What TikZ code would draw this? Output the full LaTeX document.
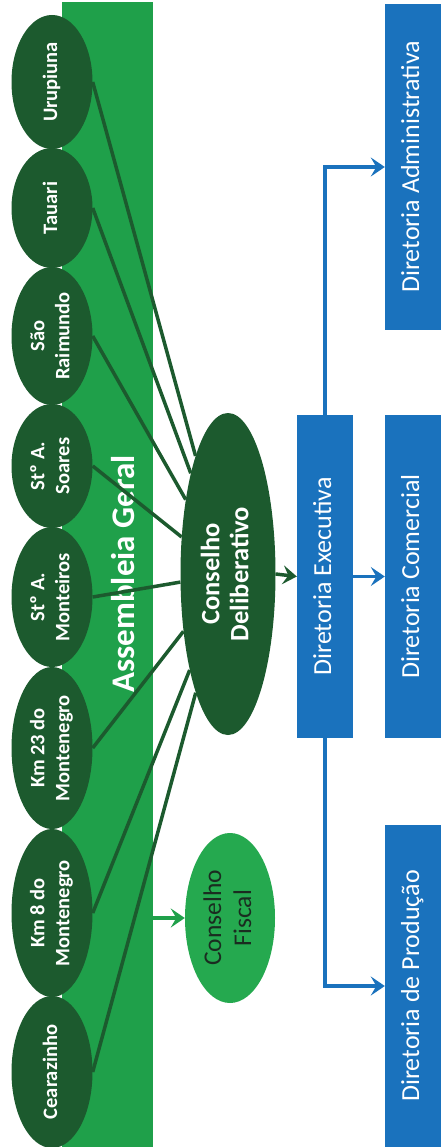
\documentclass[tikz,border=0pt]{standalone}
\usepackage{fontspec}
\setmainfont{Carlito}
\usepackage{graphicx}
\usetikzlibrary{arrows.meta,shapes.geometric}
\definecolor{dkgreen}{HTML}{1C5A2E}
\definecolor{agreen}{HTML}{1FA04A}
\definecolor{fgreen}{HTML}{25A94F}
\definecolor{dblue}{HTML}{1A72BD}
\definecolor{ftext}{HTML}{1A2C20}
\newcommand{\vlab}[3]{\rotatebox{90}{\fontsize{#1}{#2}\selectfont\begin{tabular}{@{}c@{}}#3\end{tabular}}}
\tikzset{
  band/.style={rectangle, fill=agreen, inner sep=0pt},
  place/.style={ellipse, fill=dkgreen, inner sep=0pt, minimum width=81pt, text=white, font=\bfseries},
  council/.style={ellipse, inner sep=0pt},
  dirbox/.style={rectangle, fill=dblue, inner sep=0pt, minimum width=56pt, text=white},
  conn/.style={draw=dkgreen, line width=3.5pt},
  darrow/.style={draw=dkgreen, line width=3.5pt, -{Stealth[length=14pt,width=19pt,inset=5.5pt]}},
  garrow/.style={draw=agreen, line width=3.5pt, -{Stealth[length=14pt,width=19pt,inset=5.5pt]}},
  barrow/.style={draw=dblue, line width=3.5pt, -{Stealth[length=14pt,width=19pt,inset=5.5pt]}}
}
\begin{document}
\begin{tikzpicture}[x=1pt,y=-1pt]
\useasboundingbox (0,0) rectangle (441,1147);
% Assembleia Geral band
\node[band, minimum width=91pt, minimum height=1145pt] (ag) at (107.5,574.5) {};
\node[text=white, font=\bfseries, inner sep=0pt] (agt) at (127,574) {\vlab{33}{38}{Assembleia Geral}};
% communities
\node[place, minimum height=134pt] (uru) at (52,82) {\vlab{20.5}{25}{Urupiuna}};
\node[place, minimum height=120pt] (tau) at (52,208) {\vlab{20.5}{25}{Tauari}};
\node[place, minimum height=138pt] (sao) at (52,336) {\vlab{20.5}{25}{São\\Raimundo}};
\node[place, minimum height=124pt] (soa) at (52,466) {\vlab{20.5}{25}{Stº A.\\Soares}};
\node[place, minimum height=140pt] (mon) at (52,597) {\vlab{20.5}{25}{Stº A.\\Monteiros}};
\node[place, minimum height=162pt] (k23) at (52,748) {\vlab{20.5}{25}{Km 23 do\\Montenegro}};
\node[place, minimum height=168pt] (k8) at (52,913) {\vlab{20.5}{25}{Km 8 do\\Montenegro}};
\node[place, minimum height=152pt] (cea) at (52,1072) {\vlab{20.5}{25}{Cearazinho}};
% councils
\node[place, minimum width=95pt, minimum height=322pt] (cd) at (228,574) {\vlab{26.5}{29}{Conselho\\Deliberativo}};
\node[council, fill=fgreen, text=ftext, minimum width=90pt, minimum height=170pt] (cf) at (230,918) {\vlab{25.5}{30}{Conselho\\Fiscal}};
% directorates
\node[dirbox, minimum height=323pt] (exe) at (325,576.5) {\vlab{26}{30}{Diretoria Executiva}};
\node[dirbox, minimum height=323pt] (com) at (413,576.5) {\vlab{26}{30}{Diretoria Comercial}};
\node[dirbox, minimum height=326pt] (adm) at (413,167) {\vlab{26}{30}{Diretoria Administrativa}};
\node[dirbox, minimum height=322pt] (pro) at (413,986) {\vlab{26}{30}{Diretoria de Produção}};
% connectors
\foreach \n in {uru,tau,sao,soa,mon,k23,k8,cea}
  \draw[conn] (\n.east) -- (cd);
\draw[darrow] (cd.east) -- (exe.west);
\draw[garrow] (ag.east |- cf.west) -- (cf.west);
\draw[barrow] (exe.east) -- (com.west);
\draw[barrow] (exe.north) |- (adm.west);
\draw[barrow] (exe.south) |- (pro.west);
\end{tikzpicture}
\end{document}
